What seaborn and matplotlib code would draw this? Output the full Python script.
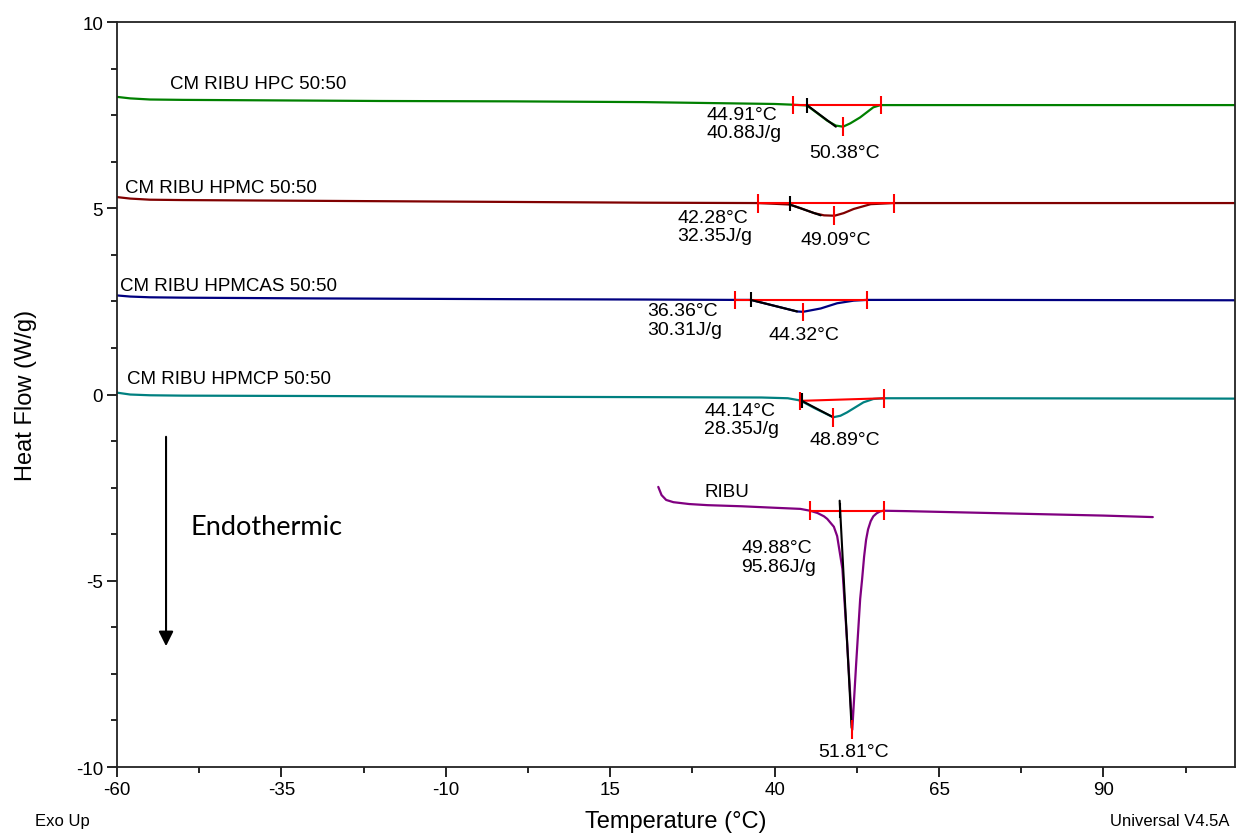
import numpy as np
import pandas as pd
import matplotlib
matplotlib.use("Agg")
import matplotlib.pyplot as plt
import seaborn as sns

# sample names and trace colours
samples = ["CM RIBU HPC 50:50", "CM RIBU HPMC 50:50", "CM RIBU HPMCAS 50:50",
           "CM RIBU HPMCP 50:50", "RIBU"]
colors = ["#008000", "#800000", "#000080", "#008080", "#800080"]

# DSC traces (temperature in C, heat flow in W/g)
hpc_t = [-60, -58, -55, -50, -40, -20, 0, 20, 40, 42.8, 44.9, 46.5, 48.0, 49.3, 50.4, 51.5, 53.0, 55.0, 56.1, 62, 80, 110]
hpc_hf = [7.99, 7.95, 7.92, 7.91, 7.90, 7.88, 7.87, 7.85, 7.80, 7.78, 7.76, 7.55, 7.35, 7.22, 7.19, 7.28, 7.44, 7.71, 7.77, 7.77, 7.77, 7.77]

hpmc_t = [-60, -58, -55, -50, -30, 0, 20, 37.3, 40, 42.3, 44.0, 46.0, 47.5, 49.1, 50.5, 52.0, 54.6, 58.1, 70, 110]
hpmc_hf = [5.30, 5.26, 5.23, 5.22, 5.20, 5.17, 5.15, 5.14, 5.12, 5.10, 5.00, 4.87, 4.81, 4.80, 4.87, 4.98, 5.11, 5.14, 5.14, 5.14]

hpmcas_t = [-60, -58, -55, -50, -30, 0, 20, 34.0, 36.4, 40.0, 43.4, 44.3, 47.0, 49.5, 52.0, 54.0, 70, 110]
hpmcas_hf = [2.66, 2.63, 2.61, 2.60, 2.58, 2.56, 2.55, 2.54, 2.54, 2.38, 2.23, 2.22, 2.31, 2.45, 2.52, 2.54, 2.54, 2.53]

hpmcp_t = [-60, -58, -55, -50, -30, 0, 20, 38, 42, 43.9, 46.0, 48.9, 50.0, 51.0, 53.5, 55.0, 56.7, 70, 110]
hpmcp_hf = [0.05, 0.0, -0.02, -0.03, -0.04, -0.06, -0.07, -0.08, -0.10, -0.16, -0.36, -0.61, -0.57, -0.48, -0.21, -0.12, -0.10, -0.10, -0.11]

ribu_t = [22.3, 22.8, 23.5, 24.6, 27, 29.8, 35, 40, 43.9, 45.4, 46.5, 47.5, 48.0, 49.0, 49.5, 50.3,
          51.0, 51.8, 52.4, 53.0, 53.3, 53.6, 53.9, 54.2, 54.6, 55.0, 55.5, 56.0, 56.5, 60, 70, 80, 90, 97.5]
ribu_hf = [-2.48, -2.70, -2.83, -2.89, -2.94, -2.97, -3.00, -3.04, -3.07, -3.12, -3.18, -3.27, -3.34, -3.55, -3.80, -4.68,
           -6.60, -9.00, -7.20, -5.49, -4.95, -4.35, -3.90, -3.62, -3.40, -3.27, -3.19, -3.14, -3.12, -3.13, -3.17, -3.21, -3.25, -3.29]

# analysis results
onset_t = [44.91, 42.28, 36.36, 44.14, 49.88]
enthalpy = [40.88, 32.35, 30.31, 28.35, 95.86]
peak_t = [50.38, 49.09, 44.32, 48.89, 51.81]
peak_hf = [7.19, 4.80, 2.22, -0.61, -9.0]
lim_lo = [42.8, 37.4, 34.0, 43.8, 45.3]
lim_hi = [56.1, 58.1, 54.0, 56.7, 56.7]
base_lo = [7.77, 5.13, 2.54, -0.17, -3.12]
base_hi = [7.77, 5.13, 2.54, -0.10, -3.12]
onset_hf = [7.77, 5.10, 2.54, -0.17, -2.85]
tangent_end_t = [49.3, 47.0, 43.4, 48.9, 51.7]
tangent_end_hf = [7.19, 4.81, 2.23, -0.61, -8.95]

# where the texts sit
label_t = [-51.9, -58.8, -59.5, -58.5, 29.3]
label_hf = [8.36, 5.57, 2.94, 0.42, -2.59]
onset_txt_t = [29.6, 25.2, 20.6, 29.3, 34.9]
onset_txt_hf = [7.28, 4.52, 2.00, -0.67, -4.36]
peak_txt_t = [45.3, 43.9, 39.0, 45.3, 46.6]
peak_txt_hf = [6.51, 4.15, 1.60, -1.22, -9.57]

x_ticks = [-60, -35, -10, 15, 40, 65, 90]
y_ticks = [-10, -5, 0, 5, 10]

traces = [(hpc_t, hpc_hf), (hpmc_t, hpmc_hf), (hpmcas_t, hpmcas_hf), (hpmcp_t, hpmcp_hf), (ribu_t, ribu_hf)]
df = pd.concat([pd.DataFrame({"Temperature": t, "HeatFlow": hf, "Sample": s})
                for s, (t, hf) in zip(samples, traces)], ignore_index=True)

sns.set_style("ticks")
plt.rcParams["font.family"] = ["Liberation Sans", "DejaVu Sans"]
plt.rcParams["axes.unicode_minus"] = False
for k in ["text.color", "axes.labelcolor", "xtick.color", "ytick.color", "axes.edgecolor"]:
    plt.rcParams[k] = "black"

fig = plt.figure(figsize=(12.36, 8.37), dpi=100)
ax = fig.add_axes([0.0947, 0.0824, 0.9045, 0.8901])

sns.lineplot(data=df, x="Temperature", y="HeatFlow", hue="Sample", palette=dict(zip(samples, colors)),
             sort=False, estimator=None, legend=False, linewidth=1.6, ax=ax)

fs = 13.5
for i in range(len(samples)):
    # integration baseline with limit ticks
    ax.plot([lim_lo[i], lim_hi[i]], [base_lo[i], base_hi[i]], color="red", lw=1.5, zorder=3)
    ax.vlines([lim_lo[i]], base_lo[i] - 0.25, base_lo[i] + 0.25, color="red", lw=1.5, zorder=3)
    ax.vlines([lim_hi[i]], base_hi[i] - 0.25, base_hi[i] + 0.25, color="red", lw=1.5, zorder=3)
    # onset tangent
    ax.plot([onset_t[i], tangent_end_t[i]], [onset_hf[i], tangent_end_hf[i]], color="black", lw=1.5, zorder=4)
    b = np.interp(onset_t[i], [lim_lo[i], lim_hi[i]], [base_lo[i], base_hi[i]])
    ax.vlines([onset_t[i]], b - 0.2, b + 0.2, color="black", lw=1.5, zorder=4)
    # peak tick
    ax.vlines([peak_t[i]], peak_hf[i] - 0.25, peak_hf[i] + 0.25, color="red", lw=1.5, zorder=5)

    ax.text(label_t[i], label_hf[i], samples[i], fontsize=fs, ha="left", va="center")
    ax.text(onset_txt_t[i], onset_txt_hf[i], f"{onset_t[i]:.2f}°C\n{enthalpy[i]:.2f}J/g",
            fontsize=14, ha="left", va="center", linespacing=1.1)
    ax.text(peak_txt_t[i], peak_txt_hf[i], f"{peak_t[i]:.2f}°C", fontsize=14, ha="left", va="center")

# endothermic arrow
ax.annotate("", xy=(-52.55, -6.83), xytext=(-52.55, -1.06),
            arrowprops=dict(arrowstyle="-|>", color="black", lw=1.5, mutation_scale=22))
ax.text(-48.9, -3.53, "Endothermic", fontsize=19.5, family=["Lato", "DejaVu Sans"], ha="left", va="center")

ax.set_xlim(-60, 110)
ax.set_ylim(-10, 10)
ax.set_xticks(x_ticks)
ax.set_xticklabels([str(v) for v in x_ticks])
ax.set_xticks(np.arange(-47.5, 110, 25), minor=True)
ax.set_yticks(y_ticks)
ax.set_yticklabels([str(v) for v in y_ticks])
ax.set_yticks(np.arange(-10, 10.01, 1.25), minor=True)
ax.tick_params(axis="both", which="major", length=7, width=1.2, labelsize=fs, pad=3)
ax.tick_params(axis="both", which="minor", length=4, width=1.2)
for sp in ax.spines.values():
    sp.set_color("#222222")
    sp.set_linewidth(1.3)

ax.set_xlabel("Temperature (°C)", fontsize=17, labelpad=9)
ax.set_ylabel("Heat Flow (W/g)", fontsize=17, labelpad=28)

fig.text(0.028, 0.018, "Exo Up", fontsize=12, ha="left", va="center")
fig.text(0.995, 0.018, "Universal V4.5A", fontsize=12, ha="right", va="center")

fig.savefig("out.png", dpi=100)
